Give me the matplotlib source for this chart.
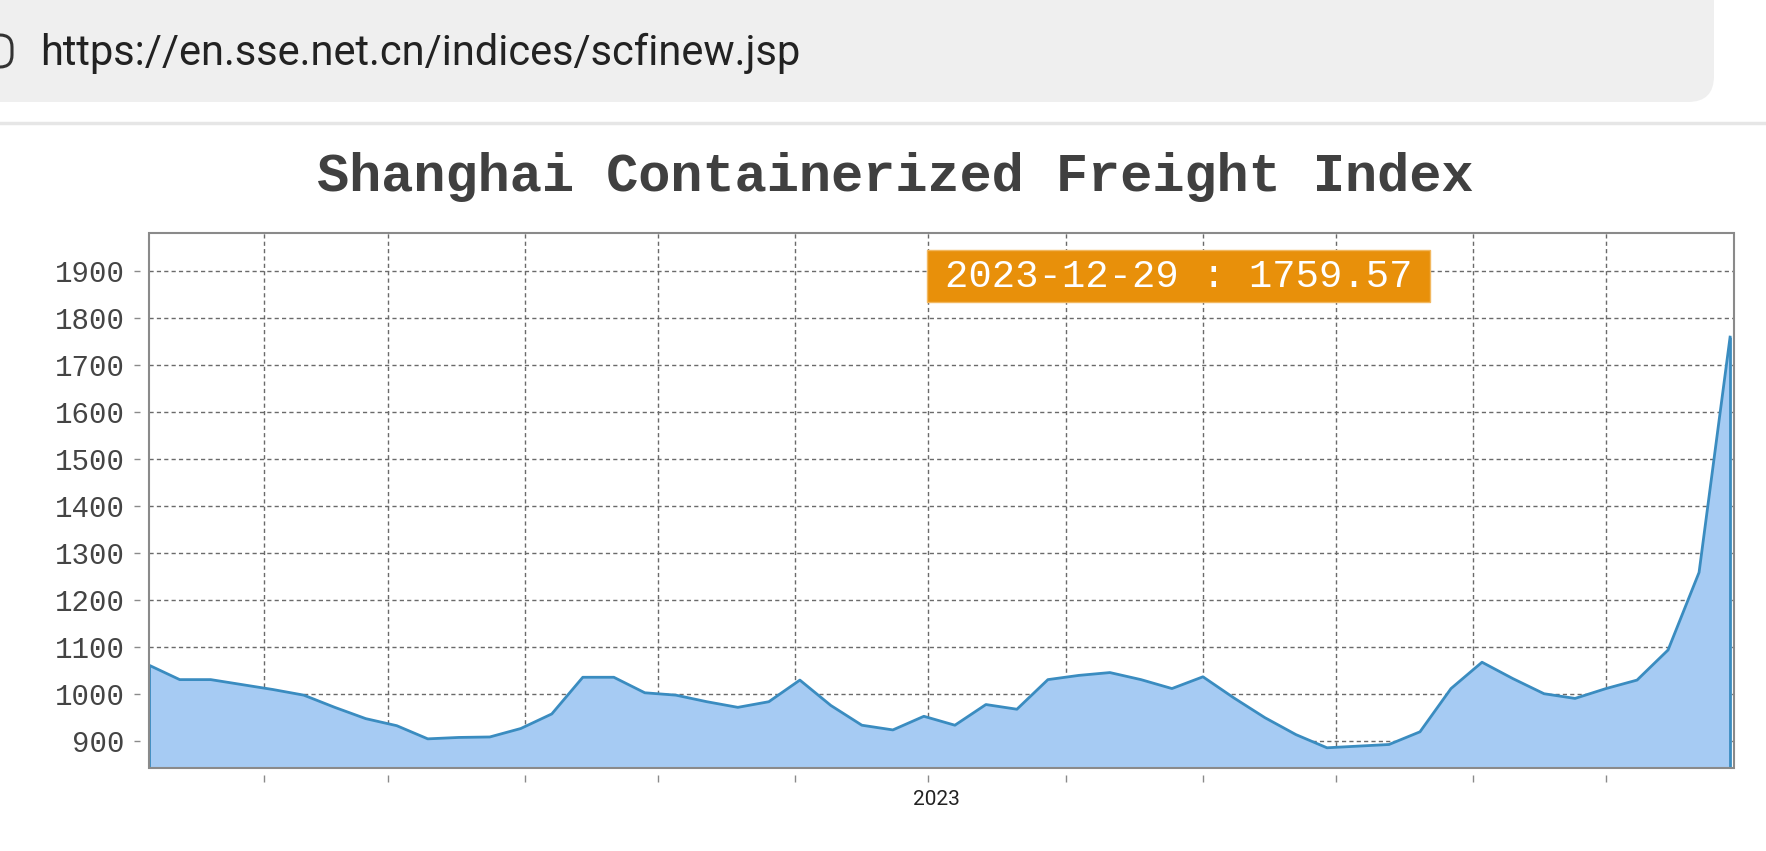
import matplotlib
matplotlib.use("Agg")
import matplotlib.pyplot as plt
import matplotlib.dates as mdates
import matplotlib.transforms as mtransforms
import pandas as pd
from matplotlib.patches import FancyBboxPatch, Rectangle
from matplotlib.transforms import IdentityTransform
from matplotlib.lines import Line2D

# weekly SCFI closes (no release on 27 Jan and 6 Oct)
dates = pd.to_datetime([
    "2023-01-06", "2023-01-13", "2023-01-20", "2023-02-03", "2023-02-10",
    "2023-02-17", "2023-02-24", "2023-03-03", "2023-03-10", "2023-03-17",
    "2023-03-24", "2023-03-31", "2023-04-07", "2023-04-14", "2023-04-21",
    "2023-04-28", "2023-05-05", "2023-05-12", "2023-05-19", "2023-05-26",
    "2023-06-02", "2023-06-09", "2023-06-16", "2023-06-23", "2023-06-30",
    "2023-07-07", "2023-07-14", "2023-07-21", "2023-07-28", "2023-08-04",
    "2023-08-11", "2023-08-18", "2023-08-25", "2023-09-01", "2023-09-08",
    "2023-09-15", "2023-09-22", "2023-09-29", "2023-10-13", "2023-10-20",
    "2023-10-27", "2023-11-03", "2023-11-10", "2023-11-17", "2023-11-24",
    "2023-12-01", "2023-12-08", "2023-12-15", "2023-12-22", "2023-12-29",
])
values = [
    1062, 1031, 1031, 1010, 998,
    972, 948, 933, 905, 908,
    909, 927, 958, 1036, 1036,
    1003, 998, 984, 972, 984,
    1030, 976, 934, 924, 953,
    934, 978, 968, 1031, 1040,
    1046, 1031, 1012, 1037, 992,
    950, 914, 886, 893, 920,
    1012, 1068, 1033, 1001, 991,
    1012, 1030, 1094, 1259, 1759.57,
]

y_ticks = list(range(900, 2000, 100))
y_range = (843, 1981)
title = "Shanghai Containerized Freight Index"
url = "https://en.sse.net.cn/indices/scfinew.jsp"
year_label = "2023"

W, H = 1766, 851
fill_col = "#a6cbf3"
line_col = "#3a8cc0"
grid_col = "#6a6a6a"
frame_col = "#8a8a8a"
box_col = "#e8900a"


def fx(px):
    return px / W


def fy(py):
    return 1 - py / H


fig = plt.figure(figsize=(W / 100, H / 100), dpi=100)
fig.patch.set_facecolor("white")

# browser address bar
bar = FancyBboxPatch((-60, H - 102), 1714 + 60, 130,
                     boxstyle="round,pad=0,rounding_size=26",
                     transform=IdentityTransform(), fc="#efefef", ec="none")
fig.add_artist(bar)
icon = FancyBboxPatch((-22, H - 67), 34, 32,
                      boxstyle="round,pad=0,rounding_size=12",
                      transform=IdentityTransform(), fc="none", ec="#333333", lw=2.2)
fig.add_artist(icon)
fig.add_artist(Line2D([0, 1], [fy(123), fy(123)], transform=fig.transFigure,
                      color="#e6e6e6", lw=2.5))
fig.text(fx(40), fy(53), url, family="Roboto", fontsize=30, color="#222222",
         ha="left", va="center")

# title
fig.text(fx(895), fy(177), title, family="Liberation Mono", weight="bold",
         fontsize=38.6, color="#404040", ha="center", va="center")

ax = fig.add_axes([fx(148.7), fy(768), (1734.5 - 148.7) / W, (768 - 233) / H])
ax.fill_between(dates, values, y_range[0], color=fill_col, lw=0, zorder=2)
ax.plot(dates, values, color=line_col, lw=2, zorder=3)
ax.vlines([dates[0], dates[-1]], y_range[0], [values[0], values[-1]],
          color=line_col, lw=2, zorder=3)

ax.set_xlim(dates[0], dates[-1] + pd.Timedelta(days=1))
ax.set_ylim(*y_range)
ax.set_yticks(y_ticks)
ax.xaxis.set_major_locator(mdates.MonthLocator())
ax.xaxis.set_major_formatter(plt.FuncFormatter(
    lambda x, pos: year_label if mdates.num2date(x).month == 7 else ""))

ax.grid(True, color=grid_col, linestyle=(0, (3, 2.3)), linewidth=1, zorder=1)

for s in ax.spines.values():
    s.set_visible(False)
ax.spines["left"].set_position(("outward", 6))
ax.spines["bottom"].set_position(("outward", 5))
ax.add_patch(Rectangle((0, 0), 1, 1, transform=ax.transAxes, fill=False,
                       ec=frame_col, lw=1.5, zorder=5, clip_on=False))

ax.tick_params(axis="y", direction="out", length=4.5, width=1, color=frame_col,
               pad=7, labelsize=21, labelcolor="#444444")
ax.tick_params(axis="x", direction="out", length=5, width=1, color=frame_col,
               pad=6, labelsize=15, labelcolor="#222222")
for lab in ax.get_yticklabels():
    lab.set_family("Liberation Mono")
shift = mtransforms.ScaledTranslation(6 / 72, 0, fig.dpi_scale_trans)
for lab in ax.get_xticklabels():
    lab.set_family("Roboto")
    lab.set_transform(lab.get_transform() + shift)

# last value badge
ax.add_patch(Rectangle((0.491, 0.871), 0.317, 0.097, transform=ax.transAxes,
                       fc=box_col, ec="#f2b860", lw=1, zorder=6))
ax.text(0.6495, 0.918, f"{dates[-1]:%Y-%m-%d} : {values[-1]:.2f}",
        transform=ax.transAxes, ha="center", va="center", color="white",
        family="Liberation Mono", fontsize=28, zorder=7)

fig.savefig("out.png", dpi=100)
